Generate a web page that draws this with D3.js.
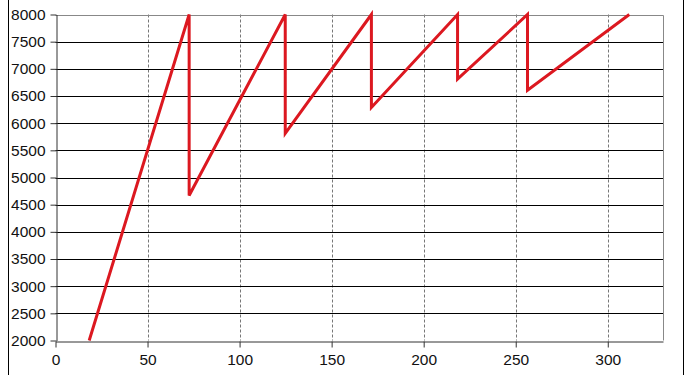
<!DOCTYPE html>
<html>
<head>
<meta charset="utf-8">
<script src="https://cdn.jsdelivr.net/npm/d3@7"></script>
<style>
  body { margin: 0; background: #fff; }
  text { font-family: "Liberation Sans", Arial, sans-serif; font-size: 15px; fill: #111; }
</style>
</head>
<body>
<svg id="chart" width="693" height="375"></svg>
<script>
// sawtooth readings
var xs = [18.3, 72.6, 72.6, 124.8, 124.8, 171.6, 171.6, 218.4, 218.4, 256.4, 256.4, 311.7];
var ys = [2000, 8000, 4670, 8000, 5810, 8000, 6290, 8000, 6810, 8000, 6605, 8000];

var xTicks = [0, 50, 100, 150, 200, 250, 300];
var yTicks = [2000, 2500, 3000, 3500, 4000, 4500, 5000, 5500, 6000, 6500, 7000, 7500, 8000];

var svg = d3.select('#chart');
var margin = { left: 55.5, right: 30, top: 14.5, bottom: 34.5 };
var width = 693, height = 375;

var x = d3.scaleLinear().domain([0, 330]).range([margin.left, width - margin.right]);
var y = d3.scaleLinear().domain([2000, 8000]).range([height - margin.bottom, margin.top]);

// outer frame lines of the panel
svg.append('line').attr('x1', 8.5).attr('x2', 8.5).attr('y1', 0).attr('y2', height)
  .attr('stroke', '#000').attr('stroke-width', 1);
svg.append('line').attr('x1', 683.5).attr('x2', 683.5).attr('y1', 0).attr('y2', height)
  .attr('stroke', '#000').attr('stroke-width', 1);

// vertical dashed grid
svg.append('g').selectAll('line')
  .data(xTicks.filter(function(d){ return d > 0; }))
  .enter().append('line')
  .attr('x1', function(d){ return Math.round(x(d)) + 0.5; })
  .attr('x2', function(d){ return Math.round(x(d)) + 0.5; })
  .attr('y1', y(8000)).attr('y2', y(2000))
  .attr('stroke', '#777').attr('stroke-dasharray', '3,2');

// horizontal grid
svg.append('g').selectAll('line')
  .data(yTicks.filter(function(d){ return d > 2000 && d < 8000; }))
  .enter().append('line')
  .attr('x1', x(0)).attr('x2', x(330))
  .attr('y1', function(d){ return Math.round(y(d)) + 0.5; })
  .attr('y2', function(d){ return Math.round(y(d)) + 0.5; })
  .attr('stroke', '#000');

// top and right border of plot
svg.append('path')
  .attr('d', 'M' + x(0) + ',' + (Math.round(y(8000)) + 0.5) + 'H' + (Math.round(x(330)) + 0.5) + 'V' + y(2000))
  .attr('fill', 'none').attr('stroke', '#888');

// axes
var fmt = d3.format('d');
var xAxis = d3.axisBottom(x).tickValues(xTicks).tickFormat(fmt).tickSize(6).tickPadding(6).tickSizeOuter(0);
var xMinor = d3.axisBottom(x).tickValues(d3.range(0, 331, 10)).tickSize(4).tickFormat('').tickSizeOuter(0);
var yAxis = d3.axisLeft(y).tickValues(yTicks).tickFormat(fmt).tickSize(6).tickPadding(5).tickSizeOuter(0);
var yMinor = d3.axisLeft(y).tickValues(d3.range(2000, 8001, 100)).tickSize(3).tickFormat('').tickSizeOuter(0);

var gx = svg.append('g').attr('transform', 'translate(0,' + (Math.round(y(2000)) + 0.5) + ')');
gx.call(xMinor);
gx.call(xAxis);
var gy = svg.append('g').attr('transform', 'translate(' + (Math.round(x(0)) + 0.5) + ',0)');
gy.call(yMinor);
gy.call(yAxis);

svg.selectAll('.domain').attr('stroke', '#333');
svg.selectAll('.tick line').attr('stroke', '#333');
svg.selectAll('.tick text').style('font-size', '15.5px').attr('fill', '#111')
  .style('font-family', '"Liberation Sans", Arial, sans-serif');

// the line
var line = d3.line()
  .x(function(d, i){ return x(xs[i]); })
  .y(function(d){ return y(d); });

svg.append('path')
  .datum(ys)
  .attr('d', line)
  .attr('fill', 'none')
  .attr('stroke', '#dc1820')
  .attr('stroke-width', 3)
  .attr('stroke-linejoin', 'miter');
</script>
</body>
</html>
